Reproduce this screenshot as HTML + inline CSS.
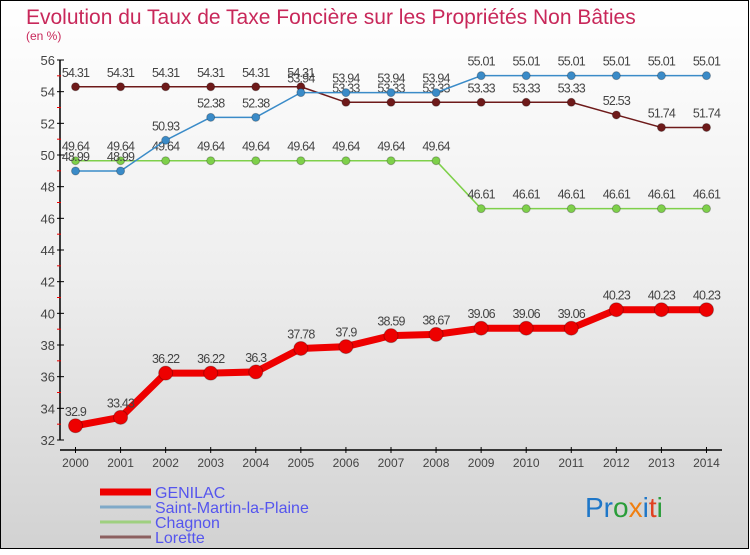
<!DOCTYPE html>
<html><head><meta charset="utf-8"><style>
body{margin:0;width:750px;height:550px;overflow:hidden;font-family:"Liberation Sans",sans-serif}
</style></head><body>
<svg width="750" height="550" xmlns="http://www.w3.org/2000/svg">
<defs><linearGradient id="bg" x1="0" y1="0" x2="0" y2="1"><stop offset="0" stop-color="#ffffff"/><stop offset="0.5" stop-color="#eeeeee"/><stop offset="1" stop-color="#d2d2d2"/></linearGradient></defs>
<rect x="0.5" y="0.5" width="748" height="548" fill="url(#bg)" stroke="#000" stroke-width="1"/>
<text x="26" y="24" font-size="21" fill="#c8285a">Evolution du Taux de Taxe Foncière sur les Propriétés Non Bâties</text>
<text x="26" y="40" font-size="12" fill="#c8285a">(en %)</text>
<g id="axes"></g>
<g id="series"></g>
<g id="legend"></g>
<text x="585" y="517" font-size="28"><tspan fill="#1f77c8">Pr</tspan><tspan fill="#2a9d3a">o</tspan><tspan fill="#f07f10">x</tspan><tspan fill="#1f77c8">i</tspan><tspan fill="#e04020">t</tspan><tspan fill="#2a9d3a">i</tspan></text>
</svg>
<script>
const years=[2000,2001,2002,2003,2004,2005,2006,2007,2008,2009,2010,2011,2012,2013,2014];
const genilac=[32.9,33.43,36.22,36.22,36.3,37.78,37.9,38.59,38.67,39.06,39.06,39.06,40.23,40.23,40.23];
const stmartin=[48.99,48.99,50.93,52.38,52.38,53.94,53.94,53.94,53.94,55.01,55.01,55.01,55.01,55.01,55.01];
const chagnon=[49.64,49.64,49.64,49.64,49.64,49.64,49.64,49.64,49.64,46.61,46.61,46.61,46.61,46.61,46.61];
const lorette=[54.31,54.31,54.31,54.31,54.31,54.31,53.33,53.33,53.33,53.33,53.33,53.33,52.53,51.74,51.74];
const yTicks=[32,34,36,38,40,42,44,46,48,50,52,54,56];
const names=["GENILAC","Saint-Martin-la-Plaine","Chagnon","Lorette"];
const NS="http://www.w3.org/2000/svg";
const X=i=>75.5+i*45.07;
const Y=v=>440-(v-32)*(380/24);
function mk(t,a,p){const e=document.createElementNS(NS,t);for(const k in a)e.setAttribute(k,a[k]);p.appendChild(e);return e;}
const ax=document.getElementById('axes');
let l=mk('line',{x1:60,y1:60,x2:60,y2:440,stroke:'#000','stroke-width':1.5},ax);

l=mk('line',{x1:60,y1:450,x2:722,y2:450,stroke:'#000','stroke-width':1.5},ax);

yTicks.forEach((v,i)=>{
 mk('line',{x1:57,y1:Y(v),x2:64,y2:Y(v),stroke:'#000'},ax);
 if(i<yTicks.length-1) mk('line',{x1:57,y1:Y(v+1),x2:61,y2:Y(v+1),stroke:'#e00'},ax);
 const t=mk('text',{x:55,y:Y(v)+5,'font-size':13,fill:'#444','text-anchor':'end'},ax);t.textContent=v;
 
});
years.forEach((y,i)=>{
 mk('line',{x1:X(i),y1:447,x2:X(i),y2:453,stroke:'#000'},ax);
 const t=mk('text',{x:X(i),y:467,'font-size':12,fill:'#444','text-anchor':'middle'},ax);t.textContent=y;
 
});
const sg=document.getElementById('series');
function draw(data,color,w,r,name){
 const g=mk('g',{},sg);
 
 mk('polyline',{points:data.map((v,i)=>X(i)+','+Y(v)).join(' '),fill:'none',stroke:color,'stroke-width':w,'stroke-linejoin':'round'},g);
 data.forEach((v,i)=>{
  const c=mk('circle',{cx:X(i),cy:Y(v),r:r,fill:color,stroke:'rgba(0,0,0,0.25)','stroke-width':1},g);
  
  const t=mk('text',{x:X(i),y:Y(v)-10,'font-size':12.5,fill:'#444','text-anchor':'middle','letter-spacing':'-0.8'},g);t.textContent=v;
  
 });
}
draw(lorette,'#6e1a1a',1.5,4,'series-lorette');
draw(chagnon,'#7ed04a',1.5,4,'series-chagnon');
draw(stmartin,'#3a8bc8',1.5,4,'series-saint-martin');
draw(genilac,'#ee0000',7,7,'series-genilac');
const lg=document.getElementById('legend');
const lc=['#ee0000','#7fa9c8','#9fd080','#8c6060'],lw=[7,3,3,3];
names.forEach((n,i)=>{
 const y=492+i*15;
 const g=mk('g',{},lg);
 mk('line',{x1:100,y1:y,x2:151,y2:y,stroke:lc[i],'stroke-width':lw[i]},g);
 const t=mk('text',{x:155,y:y+6,'font-size':16,fill:'#5555ee'},g);t.textContent=n;
});
</script>
</body></html>
